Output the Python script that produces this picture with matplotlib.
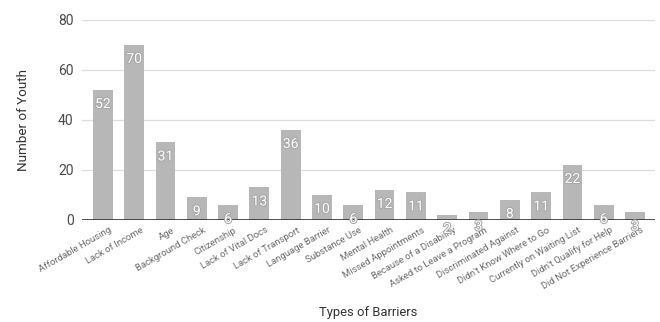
import matplotlib.pyplot as plt
import matplotlib.patheffects as pe
from matplotlib.transforms import ScaledTranslation
import numpy as np

plt.rcParams['font.family'] = ['Roboto', 'DejaVu Sans']

barriers = [
    "Affordable Housing", "Lack of Income", "Age", "Background Check",
    "Citizenship", "Lack of Vital Docs", "Lack of Transport", "Language Barrier",
    "Substance Use", "Mental Health", "Missed Appointments",
    "Because of a Disability", "Asked to Leave a Program", "Discriminated Against",
    "Didn't Know Where to Go", "Currently on Waiting List",
    "Didn't Qualify for Help", "Did Not Experience Barriers",
]
youth = [52, 70, 31, 9, 6, 13, 36, 10, 6, 12, 11, 2, 3, 8, 11, 22, 6, 3]

fig = plt.figure(figsize=(6.6, 3.22), dpi=100)
ax = fig.add_axes([0.124, 0.317, 0.868, 0.621])

x = np.arange(len(barriers))
ax.bar(x, youth, width=0.63, color="#b7b7b7", zorder=2)

# value labels sit inside the top of each bar
for xi, v in zip(x, youth):
    ax.text(xi, v - 5.6, str(v), ha="center", va="center", fontsize=10,
            color="white", zorder=5,
            path_effects=[pe.withStroke(linewidth=1.5, foreground="#a8a8a8")])

ax.set_xlim(-0.67, 17.63)
ax.set_ylim(0, 80)
ax.set_yticks([0, 20, 40, 60, 80])
ax.yaxis.grid(True, color="#dddddd", linewidth=0.9, zorder=0)
ax.axhline(0, color="#333333", linewidth=1.2, zorder=4)

for s in ax.spines.values():
    s.set_visible(False)
ax.tick_params(axis="y", length=0, labelsize=10, labelcolor="#4a4a4a", pad=6)
ax.tick_params(axis="x", length=0, pad=4)
ax.set_xticks(x)
ax.set_xticklabels(barriers, rotation=30, ha="right", rotation_mode="anchor",
                   fontsize=6.8, color="#6a6a6a")
shift = ScaledTranslation(6 / 100, 0, fig.dpi_scale_trans)
for lbl in ax.get_xticklabels():
    lbl.set_transform(lbl.get_transform() + shift)

ax.set_ylabel("Number of Youth", fontsize=9.7, color="#333333")
ax.yaxis.set_label_coords(-0.091, 0.5)
ax.set_xlabel("Types of Barriers", fontsize=9.4, color="#333333")
ax.xaxis.set_label_coords(0.5, -0.43)

fig.savefig("out.png", dpi=100)
